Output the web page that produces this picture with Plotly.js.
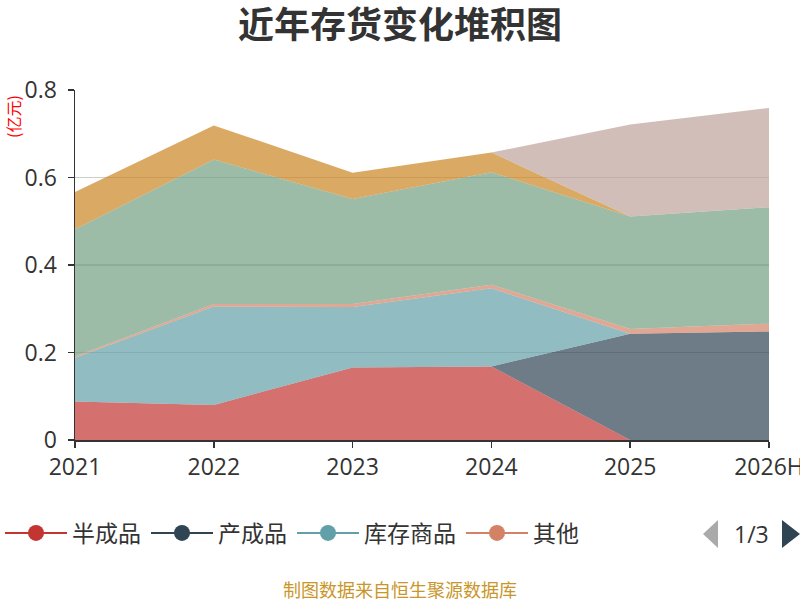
<!DOCTYPE html>
<html>
<head>
<meta charset="utf-8">
<script src="https://cdn.plot.ly/plotly-3.0.1.min.js"></script>
<style>
  html, body { margin: 0; padding: 0; background: #fff; }
  #chart { width: 800px; height: 600px; }
</style>
</head>
<body>
<div id="chart"></div>
<script>
// 近年存货构成（亿元），数值读自原图
const years = ['2021', '2022', '2023', '2024', '2025', '2026H'];

const seriesNames = ['半成品', '产成品', '库存商品', '其他', '委托加工物资', '原材料', '在产品', '发出商品'];
const banChengPin = [0.088, 0.080, 0.166, 0.168, 0.000, 0.000];
const chanChengPin = [0.000, 0.000, 0.000, 0.000, 0.243, 0.248];
const kuCunShangPin = [0.100, 0.225, 0.138, 0.179, 0.000, 0.000];
const qiTa = [0.003, 0.006, 0.007, 0.008, 0.011, 0.018];
const weiTuo = [0.000, 0.000, 0.000, 0.000, 0.000, 0.000];
const yuanCaiLiao = [0.291, 0.330, 0.240, 0.257, 0.257, 0.266];
const zaiChanPin = [0.085, 0.078, 0.060, 0.045, 0.000, 0.000];
const faChuShangPin = [0.000, 0.000, 0.000, 0.000, 0.210, 0.227];

const seriesValues = [banChengPin, chanChengPin, kuCunShangPin, qiTa, weiTuo, yuanCaiLiao, zaiChanPin, faChuShangPin];

// ECharts 默认配色
const palette = ['#c23531', '#2f4554', '#61a0a8', '#d48265', '#91c7ae', '#749f83', '#ca8622', '#bda29a'];
const legendShown = 4; // 图例第一页可完整显示的项数

const yTicks = [0, 0.2, 0.4, 0.6, 0.8];
const yTickText = ['0', '0.2', '0.4', '0.6', '0.8'];

function hexToRgba(hex, a) {
    const n = parseInt(hex.slice(1), 16);
    return `rgba(${(n >> 16) & 255},${(n >> 8) & 255},${n & 255},${a})`;
}

const traces = [];

// 堆积面积
seriesValues.forEach((vals, i) => {
    traces.push({
        type: 'scatter',
        mode: 'lines',
        x: years,
        y: vals,
        name: seriesNames[i],
        stackgroup: 'inv',
        line: { width: 0, color: palette[i] },
        fillcolor: hexToRgba(palette[i], 0.7),
        showlegend: false,
        hoverinfo: 'skip'
    });
});

// 图例（线+圆点样式）
seriesNames.slice(0, legendShown).forEach((name, i) => {
    traces.push({
        type: 'scatter',
        mode: 'lines+markers',
        x: [null],
        y: [null],
        name: name,
        line: { width: 2, color: palette[i] },
        marker: { size: 17, color: palette[i] },
        showlegend: true,
        hoverinfo: 'skip'
    });
});

const cjk = '"Open Sans", "Noto Sans CJK SC", sans-serif';

// 绘图区像素位置 -> paper 坐标
const plotL = 75, plotR = 769, plotT = 90, plotB = 440;
const px = v => (v - plotL) / (plotR - plotL);
const py = v => (plotB - v) / (plotB - plotT);

const layout = {
    width: 800,
    height: 600,
    margin: { l: plotL, r: 800 - plotR, t: plotT, b: 600 - plotB },
    paper_bgcolor: '#fff',
    plot_bgcolor: '#fff',
    font: { family: cjk, color: '#333' },
    hovermode: false,
    title: {
        text: '<b>近年存货变化堆积图</b>',
        font: { family: '"Noto Sans CJK SC", sans-serif', size: 36, color: '#333' },
        x: 0.5,
        xanchor: 'center',
        y: 0.957,
        yanchor: 'middle'
    },
    xaxis: {
        type: 'category',
        range: [0, years.length - 1],
        automargin: false,
        showgrid: false,
        zeroline: false,
        showline: true,
        linecolor: '#333',
        linewidth: 1.5,
        ticks: 'outside',
        ticklen: 6,
        tickcolor: '#333',
        tickwidth: 1.5,
        tickfont: { size: 23, color: '#333' },
        fixedrange: true
    },
    yaxis: {
        range: [0, 0.8],
        tickvals: yTicks,
        ticktext: yTickText,
        automargin: false,
        showgrid: true,
        gridcolor: '#cccccc',
        gridwidth: 1.5,
        zeroline: false,
        showline: true,
        linecolor: '#333',
        linewidth: 1.5,
        ticks: 'outside',
        ticklen: 6,
        tickcolor: '#333',
        tickwidth: 1.5,
        ticklabelstandoff: 6,
        tickfont: { size: 23, color: '#333' },
        fixedrange: true
    },
    showlegend: true,
    legend: {
        orientation: 'h',
        traceorder: 'normal',
        xref: 'container',
        yref: 'container',
        x: 0,
        xanchor: 'left',
        y: 1 - 533 / 600,
        yanchor: 'middle',
        itemwidth: 62,
        bgcolor: 'rgba(0,0,0,0)',
        font: { family: cjk, size: 23, color: '#333' }
    },
    annotations: [
        {
            text: '(亿元)',
            xref: 'paper', yref: 'paper',
            x: px(13), y: py(117),
            xanchor: 'center', yanchor: 'middle',
            textangle: -90,
            showarrow: false,
            font: { family: '"Noto Sans CJK SC", sans-serif', size: 16, color: '#ff0000' }
        },
        {
            text: '1/3',
            xref: 'paper', yref: 'paper',
            x: px(751), y: py(534),
            xanchor: 'center', yanchor: 'middle',
            showarrow: false,
            font: { family: cjk, size: 23, color: '#333' }
        },
        {
            text: '制图数据来自恒生聚源数据库',
            xref: 'paper', yref: 'paper',
            x: px(400), y: py(589),
            xanchor: 'center', yanchor: 'middle',
            showarrow: false,
            font: { family: '"Noto Sans CJK SC", sans-serif', size: 18, color: '#c9962a' }
        }
    ],
    shapes: [
        // 图例翻页箭头
        {
            type: 'path', xref: 'paper', yref: 'paper',
            path: `M ${px(718)} ${py(520)} L ${px(718)} ${py(548)} L ${px(703)} ${py(534)} Z`,
            fillcolor: '#aaaaaa', line: { width: 0 }
        },
        {
            type: 'path', xref: 'paper', yref: 'paper',
            path: `M ${px(782)} ${py(520)} L ${px(782)} ${py(548)} L ${px(800)} ${py(534)} Z`,
            fillcolor: '#2f4554', line: { width: 0 }
        }
    ]
};

Plotly.newPlot('chart', traces, layout, { displayModeBar: false, staticPlot: true });
</script>
</body>
</html>
